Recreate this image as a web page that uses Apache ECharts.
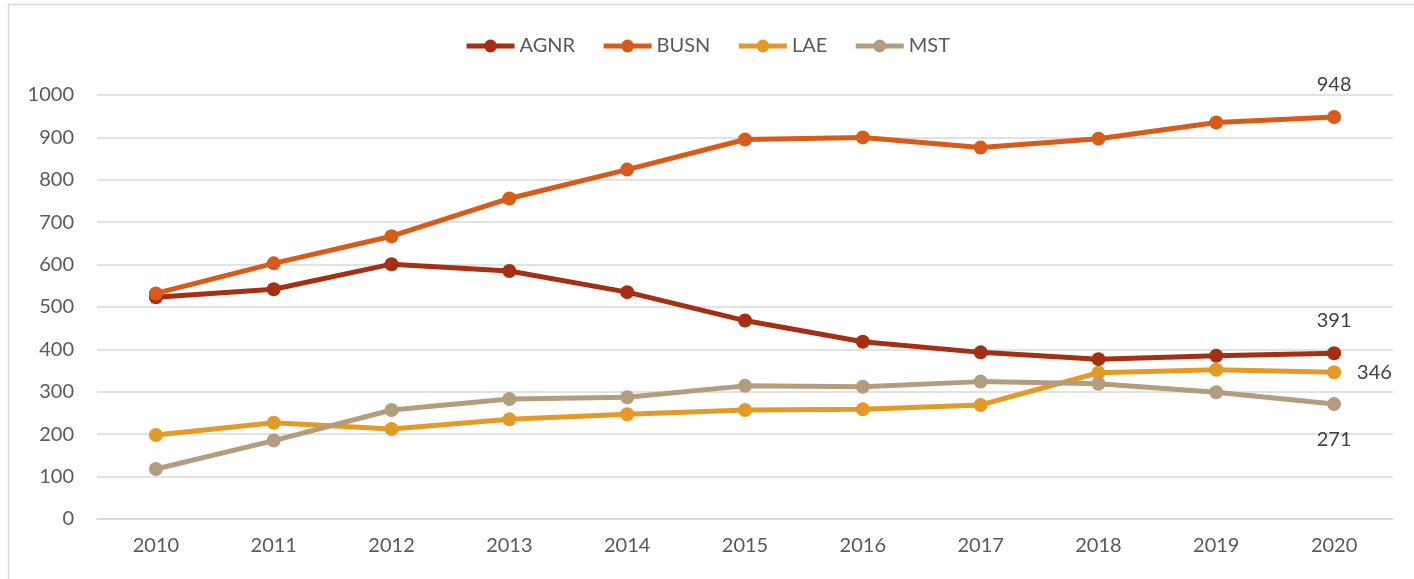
<!DOCTYPE html>
<html>
<head>
<meta charset="utf-8">
<title>Enrollment by college</title>
<script src="https://cdn.jsdelivr.net/npm/echarts@6/dist/echarts.min.js"></script>
<style>
  html, body { margin: 0; padding: 0; background: #fff; }
  #chart { width: 1414px; height: 579px; }
</style>
</head>
<body>
<div id="chart"></div>
<script>
'use strict';

// data
var years = ['2010', '2011', '2012', '2013', '2014', '2015', '2016', '2017', '2018', '2019', '2020'];
var agnr = [523, 542, 601, 585, 535, 468, 418, 393, 377, 385, 391];
var busn = [532, 603, 667, 756, 824, 895, 900, 876, 897, 935, 948];
var lae = [198, 227, 212, 235, 247, 257, 259, 269, 345, 352, 346];
var mst = [118, 185, 257, 283, 287, 314, 312, 324, 319, 299, 271];

var font = 'Lato, "Open Sans", sans-serif';

// only the last point gets a label
function lastLabel(arr, pos, dist) {
    return arr.map(function (v, i) {
        if (i !== arr.length - 1) return v;
        return {
            value: v,
            label: { show: true, position: pos, distance: dist }
        };
    });
}

function line(name, color, data) {
    return {
        name: name,
        type: 'line',
        data: data,
        symbol: 'circle',
        symbolSize: 14,
        lineStyle: { width: 5, color: color },
        itemStyle: { color: color },
        label: { color: '#404040', fontSize: 20, fontFamily: font },
        emphasis: { disabled: true },
        z: 3
    };
}

var myChart = echarts.init(document.getElementById('chart'));
myChart.setOption({
    animation: false,
    backgroundColor: '#fff',
    graphic: [{
        type: 'rect',
        shape: { x: 8.5, y: 4.5, width: 1420, height: 600 },
        style: { fill: 'none', stroke: '#d9d9d9', lineWidth: 1.5 },
        silent: true
    }],
    legend: {
        top: 31,
        left: 'center',
        itemWidth: 48,
        itemHeight: 16,
        itemGap: 26,
        lineStyle: { width: 5 },
        textStyle: { color: '#595959', fontSize: 20, fontFamily: font },
        data: ['AGNR', 'BUSN', 'LAE', 'MST']
    },
    grid: { left: 97, right: 21, top: 95, bottom: 60 },
    xAxis: {
        type: 'category',
        data: years,
        boundaryGap: true,
        axisLine: { show: true, lineStyle: { color: '#d9d9d9', width: 1.5 } },
        axisTick: { show: false },
        axisLabel: { color: '#595959', fontSize: 20, fontFamily: font, margin: 17 }
    },
    yAxis: {
        type: 'value',
        min: 0,
        max: 1000,
        interval: 100,
        axisLine: { show: false },
        axisTick: { show: false },
        axisLabel: {
            color: '#595959', fontSize: 20, fontFamily: font, margin: 23,
            formatter: function (v) { return String(v); }
        },
        splitLine: { lineStyle: { color: '#d9d9d9', width: 1.5 } }
    },
    series: [
        line('AGNR', '#a52f12', lastLabel(agnr, 'top', 16)),
        line('BUSN', '#d95b19', lastLabel(busn, 'top', 16)),
        line('LAE', '#e39a27', lastLabel(lae, 'right', 16)),
        line('MST', '#b49d7e', lastLabel(mst, 'bottom', 18))
    ]
});
</script>
</body>
</html>
